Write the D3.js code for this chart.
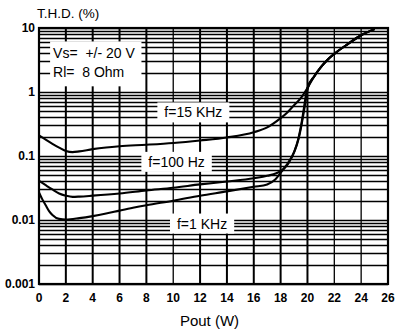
<!DOCTYPE html>
<html><head><meta charset="utf-8">
<script src="https://cdn.jsdelivr.net/npm/d3@7"></script>
<style>
html,body{margin:0;padding:0;background:#fff;}
svg{display:block;}
text{font-family:"Liberation Sans",Arial,Helvetica,sans-serif;fill:#000;}
</style></head>
<body>
<svg id="chart" width="403" height="333"></svg>
<script>
// ---- data ----
const xTickValues = [0,2,4,6,8,10,12,14,16,18,20,22,24,26];
const yTickValues = [0.001,0.01,0.1,1,10];
const yTickLabels = ["0.001","0.01","0.1","1","10"];

const pout15k = [0,0.5,1,1.5,2,2.5,3,4,5,6,8,10,12,14,16,17,18,18.5,19,19.5,20,20.5,21,21.5,22,23,24,25];
const thd15k  = [0.21,0.18,0.155,0.135,0.12,0.115,0.118,0.128,0.136,0.142,0.15,0.16,0.175,0.195,0.235,0.28,0.39,0.48,0.62,0.8,1.15,1.75,2.45,3.2,3.95,5.6,7.7,9.6];

const pout100 = [0,0.5,1,1.5,2,2.5,3,4,6,8,10,12,14,16,17,18,18.5,19,19.3,19.5,19.7,19.85,20,20.5,21,21.5,22,23,24,25];
const thd100  = [0.041,0.035,0.030,0.026,0.024,0.023,0.0232,0.024,0.026,0.029,0.032,0.036,0.04,0.045,0.049,0.058,0.075,0.115,0.18,0.28,0.5,0.8,1.15,1.75,2.45,3.2,3.95,5.6,7.7,9.6];

const pout1k = [0,0.25,0.5,0.75,1,1.5,2,3,4,5,6,7,8,10,12,14,16,17,17.6,18.1,18.6,19.05,19.35,19.55,19.75,19.9,20.05,20.5,21,21.5,22,23,24,25];
const thd1k  = [0.027,0.021,0.017,0.0138,0.012,0.0104,0.0102,0.0107,0.0115,0.0126,0.014,0.0155,0.017,0.02,0.024,0.028,0.033,0.036,0.043,0.058,0.078,0.12,0.19,0.3,0.52,0.82,1.2,1.75,2.45,3.2,3.95,5.6,7.7,9.6];

const labelTexts = ["f=15 KHz","f=100 Hz","f=1 KHz"];
const labelX = [11.5,10.25,12.15];
const labelY = [0.48,0.081,0.0088];

const legendLines = ["Vs=  +/- 20 V","Rl=  8 Ohm"];
const legendX = 1.05;
const legendY = [4.0,2.03];

// ---- chart ----
const svg = d3.select("#chart");
const L=39, R=388, T=28, B=284;
const x = d3.scaleLinear().domain([0,26]).range([L,R]);
const y = d3.scaleLog().domain([0.001,10]).range([B,T]);

// grid
const minorY = [];
[0.001,0.01,0.1,1].forEach(d=>{for(let k=1;k<=9;k++) minorY.push(d*k);});
minorY.push(10);
const grid = svg.append("g");
grid.selectAll("line.h").data(minorY).join("line")
  .attr("x1",L).attr("x2",R)
  .attr("y1",d=>Math.round(y(d))+0.5).attr("y2",d=>Math.round(y(d))+0.5)
  .attr("stroke","#000").attr("stroke-width",1.6);
grid.selectAll("line.v").data(xTickValues).join("line")
  .attr("x1",d=>x(d)).attr("x2",d=>x(d))
  .attr("y1",T).attr("y2",B)
  .attr("stroke","#000").attr("stroke-width",d=>(d===10||d===22||d===24)?1.3:2);

// curves
const line = d3.line().x(d=>x(d[0])).y(d=>y(d[1])).curve(d3.curveMonotoneX);
const series = [d3.zip(pout15k,thd15k), d3.zip(pout100,thd100), d3.zip(pout1k,thd1k)];
svg.append("defs").append("clipPath").attr("id","clip")
  .append("rect").attr("x",L).attr("y",T-2).attr("width",R-L).attr("height",B-T+2);
svg.append("g").attr("clip-path","url(#clip)")
  .selectAll("path").data(series).join("path")
  .attr("d",line).attr("fill","none").attr("stroke","#000").attr("stroke-width",2.1);

// frame
svg.append("rect").attr("x",L).attr("y",T).attr("width",R-L).attr("height",B-T)
  .attr("fill","none").attr("stroke","#000").attr("stroke-width",2.2);

// curve labels with white boxes
labelTexts.forEach((t,i)=>{
  const g = svg.append("g");
  const tx = g.append("text").attr("x",x(labelX[i])).attr("y",y(labelY[i]))
    .attr("text-anchor","middle").attr("dominant-baseline","central")
    .style("font-size","14px").text(t);
  const bb = tx.node().getBBox();
  g.insert("rect","text").attr("x",bb.x-7).attr("y",bb.y-2)
    .attr("width",bb.width+14).attr("height",bb.height+4).attr("fill","#fff");
});

// legend box
const lg = svg.append("g");
legendLines.forEach((t,i)=>{
  lg.append("text").attr("x",x(legendX)).attr("y",y(legendY[i]))
    .attr("dominant-baseline","central").attr("xml:space","preserve")
    .style("white-space","pre").style("font-size","14px").text(t);
});
const lbb = lg.node().getBBox();
lg.insert("rect","text").attr("x",lbb.x-3).attr("y",lbb.y-4)
  .attr("width",lbb.width+9).attr("height",lbb.height+10).attr("fill","#fff");

// axes labels
svg.append("g").selectAll("text").data(yTickValues).join("text")
  .attr("x",35).attr("y",d=>y(d)).attr("text-anchor","end")
  .attr("dominant-baseline","central")
  .style("font-size","12px").style("font-weight","bold")
  .text((d,i)=>yTickLabels[i]);
svg.append("g").selectAll("text").data(xTickValues).join("text")
  .attr("x",d=>x(d)).attr("y",302).attr("text-anchor","middle")
  .style("font-size","12px").style("font-weight","bold")
  .text(d=>d);

svg.append("text").attr("x",37).attr("y",18).style("font-size","13.5px").text("T.H.D. (%)");
svg.append("text").attr("x",(L+R)/2-4).attr("y",326).attr("text-anchor","middle")
  .style("font-size","15px").text("Pout (W)");
</script>
</body></html>
